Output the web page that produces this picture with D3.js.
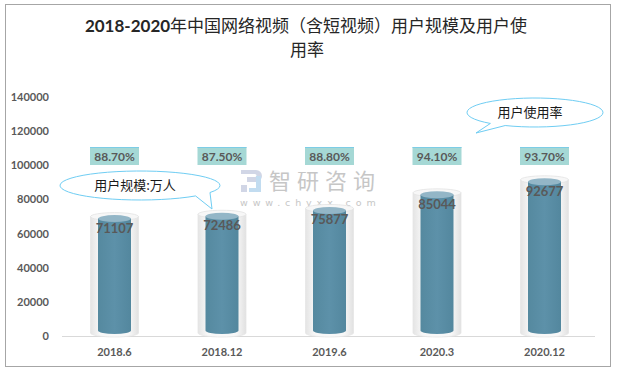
<!DOCTYPE html>
<html>
<head>
<meta charset="utf-8">
<script src="https://cdn.jsdelivr.net/npm/d3@7"></script>
<style>
  body { margin: 0; background: #fff; }
  svg { display: block; }
</style>
</head>
<body>
<div id="chart"></div>
<script>
var categories = ["2018.6", "2018.12", "2019.6", "2020.3", "2020.12"];
var users = [71107, 72486, 75877, 85044, 92677];
var rates = ["88.70%", "87.50%", "88.80%", "94.10%", "93.70%"];
var yTicks = [0, 20000, 40000, 60000, 80000, 100000, 120000, 140000];

var width = 619, height = 376;
var fontCn = "'Noto Sans CJK SC', sans-serif";
var fontNum = "Lato, 'Open Sans', sans-serif";
var labelColor = "#595959";

var svg = d3.select("#chart").append("svg")
  .attr("width", width)
  .attr("height", height);

var defs = svg.append("defs");

// glass tube gradient
var gOuter = defs.append("linearGradient").attr("id", "outerGrad")
  .attr("x1", "0").attr("x2", "1").attr("y1", "0").attr("y2", "0");
gOuter.append("stop").attr("offset", "0").attr("stop-color", "#e4e4e4");
gOuter.append("stop").attr("offset", "0.2").attr("stop-color", "#f8f8f8");
gOuter.append("stop").attr("offset", "0.8").attr("stop-color", "#f8f8f8");
gOuter.append("stop").attr("offset", "1").attr("stop-color", "#e1e1e1");

var gInner = defs.append("linearGradient").attr("id", "innerGrad")
  .attr("x1", "0").attr("x2", "1").attr("y1", "0").attr("y2", "0");
gInner.append("stop").attr("offset", "0").attr("stop-color", "#55899f");
gInner.append("stop").attr("offset", "0.5").attr("stop-color", "#5d91a9");
gInner.append("stop").attr("offset", "1").attr("stop-color", "#53879e");

// outer frame
svg.append("rect")
  .attr("x", 5.5).attr("y", 4.5)
  .attr("width", 605).attr("height", 362)
  .attr("fill", "#fff")
  .attr("stroke", "#a6a6a6")
  .attr("stroke-width", 1);

// title
var title = svg.append("text")
  .attr("x", 306).attr("y", 32)
  .attr("text-anchor", "middle")
  .attr("fill", "#262626")
  .attr("font-size", 17);
title.append("tspan").attr("font-family", fontNum).attr("font-weight", "bold").text("2018-2020");
title.append("tspan").attr("font-family", fontCn).attr("font-weight", "normal").text("年中国网络视频（含短视频）用户规模及用户使");
svg.append("text")
  .attr("x", 307).attr("y", 56)
  .attr("text-anchor", "middle")
  .attr("fill", "#262626")
  .attr("font-size", 17)
  .attr("font-family", fontCn)
  .text("用率");

var x = d3.scaleBand().domain(categories).range([60.75, 598.25]);
var y = d3.scaleLinear().domain([0, 140000]).range([336, 97]);

// y axis labels
svg.append("g").selectAll("text")
  .data(yTicks)
  .enter().append("text")
  .attr("x", 49)
  .attr("y", function (d) { return y(d); })
  .attr("dy", "0.36em")
  .attr("text-anchor", "end")
  .attr("font-family", fontNum)
  .attr("font-weight", "bold")
  .attr("font-size", 11)
  .attr("fill", labelColor)
  .text(function (d) { return d; });

// baseline
svg.append("line")
  .attr("x1", 62).attr("x2", 595)
  .attr("y1", 336.5).attr("y2", 336.5)
  .attr("stroke", "#d9d9d9");

// x labels
svg.append("g").selectAll("text")
  .data(categories)
  .enter().append("text")
  .attr("x", function (d) { return x(d) + x.bandwidth() / 2; })
  .attr("y", 356)
  .attr("text-anchor", "middle")
  .attr("font-family", fontNum)
  .attr("font-weight", "bold")
  .attr("font-size", 11)
  .attr("fill", labelColor)
  .text(function (d) { return d; });

// watermark
var wm = svg.append("g").attr("opacity", 0.85);
wm.append("path")
  .attr("d", "M241,170 h15 a6,6 0 0 1 0,12 h-9 v-5 h8 a1.5,1.5 0 0 0 0,-3 h-14 z")
  .attr("fill", "#c9d0e2");
wm.append("path")
  .attr("d", "M241,185 h6 v7 h-6 z")
  .attr("fill", "#c9d0e2");
wm.append("path")
  .attr("d", "M256,176 h5 v16 h-12 v-4 h7 z")
  .attr("fill", "#b8d7ee");
wm.append("text")
  .attr("x", 269).attr("y", 189)
  .attr("font-family", fontCn)
  .attr("font-size", 22)
  .attr("letter-spacing", 6)
  .attr("fill", "#bdbdbd")
  .text("智研咨询");
wm.append("text")
  .attr("x", 240).attr("y", 206)
  .attr("font-family", "'DejaVu Sans', sans-serif")
  .attr("font-size", 9.5)
  .attr("letter-spacing", 4.9)
  .attr("fill", "#bdbdbd")
  .text("www.chyxx.com");

// cylinders
var bars = svg.append("g").selectAll("g.bar")
  .data(users)
  .enter().append("g")
  .attr("class", "bar");

var outerW = 48, innerW = 33, outerRy = 4, innerRy = 3.5;
var cx = function (i) { return x(categories[i]) + x.bandwidth() / 2; };

// glass tube
bars.append("path")
  .attr("d", function (d, i) {
    var c = cx(i), top = y(d) + 2, bot = 333, r = outerW / 2;
    return "M" + (c - r) + "," + top +
      " L" + (c - r) + "," + bot +
      " A" + r + "," + outerRy + " 0 0 0 " + (c + r) + "," + bot +
      " L" + (c + r) + "," + top + " Z";
  })
  .attr("fill", "url(#outerGrad)")
  .attr("stroke", "#e6e6e6")
  .attr("stroke-width", 0.8);
bars.append("ellipse")
  .attr("cx", function (d, i) { return cx(i); })
  .attr("cy", function (d) { return y(d) + 2; })
  .attr("rx", outerW / 2).attr("ry", outerRy)
  .attr("fill", "#f7f7f7")
  .attr("stroke", "#e3e3e3")
  .attr("stroke-width", 0.8);

// blue fill
bars.append("path")
  .attr("d", function (d, i) {
    var c = cx(i), top = y(d) + 4, bot = 330.5, r = innerW / 2;
    return "M" + (c - r) + "," + top +
      " L" + (c - r) + "," + bot +
      " A" + r + "," + innerRy + " 0 0 0 " + (c + r) + "," + bot +
      " L" + (c + r) + "," + top + " Z";
  })
  .attr("fill", "url(#innerGrad)");
bars.append("ellipse")
  .attr("cx", function (d, i) { return cx(i); })
  .attr("cy", function (d) { return y(d) + 4; })
  .attr("rx", innerW / 2).attr("ry", innerRy)
  .attr("fill", "#93b6c7");

// value labels
bars.append("text")
  .attr("x", function (d, i) { return cx(i); })
  .attr("y", function (d) { return y(d) + 18; })
  .attr("text-anchor", "middle")
  .attr("font-family", fontNum)
  .attr("font-weight", "bold")
  .attr("font-size", 13)
  .attr("fill", "#595959")
  .text(function (d) { return d; });

// rate boxes
var rateG = svg.append("g").selectAll("g")
  .data(rates)
  .enter().append("g");
rateG.append("rect")
  .attr("x", function (d, i) { return cx(i) - 24.5; })
  .attr("y", 147)
  .attr("width", 49).attr("height", 18)
  .attr("fill", "#a5d8d5");
rateG.append("line")
  .attr("x1", function (d, i) { return cx(i) - 24.5; })
  .attr("x2", function (d, i) { return cx(i) + 24.5; })
  .attr("y1", 147.5).attr("y2", 147.5)
  .attr("stroke", "#7dcde6");
rateG.append("text")
  .attr("x", function (d, i) { return cx(i); })
  .attr("y", 160.5)
  .attr("text-anchor", "middle")
  .attr("font-family", fontNum)
  .attr("font-weight", "bold")
  .attr("font-size", 12)
  .attr("fill", "#595959")
  .text(function (d) { return d; });

// speech bubbles
function bubble(ecx, ecy, rx, ry, a1, a2, tip, label, tx) {
  var p = function (a) {
    var t = a * Math.PI / 180;
    return [ecx + rx * Math.cos(t), ecy + ry * Math.sin(t)];
  };
  var s = p(a2), e = p(a1);
  svg.append("path")
    .attr("d", "M" + s[0] + "," + s[1] +
      " L" + tip[0] + "," + tip[1] +
      " L" + e[0] + "," + e[1] +
      " A" + rx + "," + ry + " 0 1 1 " + s[0] + "," + s[1] + " Z")
    .attr("fill", "#fff")
    .attr("stroke", "#6fcdf3")
    .attr("stroke-width", 1);
  svg.append("text")
    .attr("x", tx).attr("y", ecy)
    .attr("dy", "0.36em")
    .attr("text-anchor", "middle")
    .attr("font-family", fontCn)
    .attr("font-size", 13)
    .attr("fill", "#1a1a1a")
    .text(label);
}
bubble(140, 185.5, 80, 14.5, 46, 29, [212, 209], "用户规模:万人", 135);
bubble(535, 112.5, 68, 14.5, 131, 116, [476, 133], "用户使用率", 530);
</script>
</body>
</html>
